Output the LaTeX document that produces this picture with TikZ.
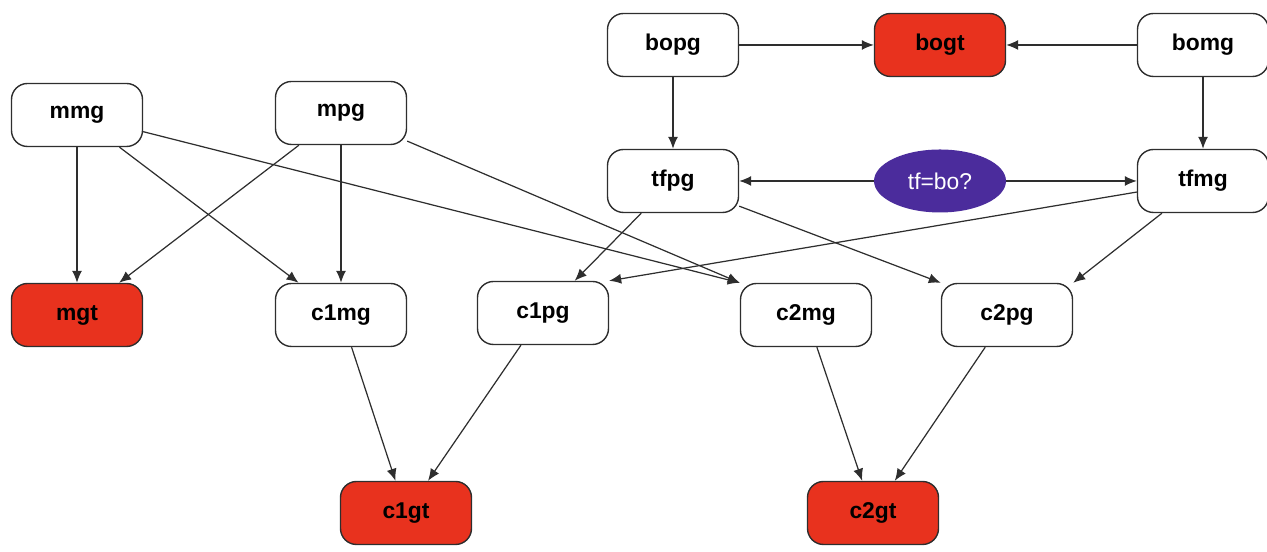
\documentclass[tikz,border=0pt]{standalone}
\usepackage{fontspec}
\setsansfont{Liberation Sans}
\usetikzlibrary{arrows.meta, positioning, shapes.geometric}
\definecolor{gtred}{HTML}{E8321E}
\definecolor{askpurple}{HTML}{4B2C9C}
\definecolor{edgegray}{HTML}{2E2E2E}

\begin{document}
\begin{tikzpicture}[
        every node/.style={font=\sffamily\bfseries\fontsize{13}{15}\selectfont},
        var/.style={rectangle, draw=edgegray, line width=0.8pt, rounded corners=0.32cm, fill=white, minimum width=2.62cm, minimum height=1.26cm, align=center},
        goal/.style={var, fill=gtred},
        query/.style={ellipse, fill=askpurple, text=white, minimum width=2.64cm, minimum height=1.26cm, inner sep=0pt, font=\sffamily\fontsize{13}{15}\selectfont},
        arrow/.style={-{Latex[length=2.4mm,width=2mm]}, line width=0.7pt, draw=edgegray}
    ]
        \useasboundingbox (0,0) rectangle (25.34,11.04);

        % Nodes
        \node[var] (bopg) at (13.46,10.14) {bopg};
        \node[goal] (bogt) at (18.80,10.14) {bogt};
        \node[var] (bomg) at (24.06,10.14) {bomg};
        \node[var] (tfpg) at (13.46,7.42) {tfpg};
        \node[query] (tfbo) at (18.80,7.42) {tf=bo?};
        \node[var] (tfmg) at (24.06,7.42) {tfmg};
        \node[var] (mmg) at (1.54,8.74) {mmg};
        \node[var] (mpg) at (6.82,8.78) {mpg};
        \node[goal] (mgt) at (1.54,4.74) {mgt};
        \node[var] (c1mg) at (6.82,4.74) {c1mg};
        \node[var] (c1pg) at (10.86,4.78) {c1pg};
        \node[var] (c2mg) at (16.12,4.74) {c2mg};
        \node[var] (c2pg) at (20.14,4.74) {c2pg};
        \node[goal] (c1gt) at (8.12,0.78) {c1gt};
        \node[goal] (c2gt) at (17.46,0.78) {c2gt};

        % Arrows
        \draw[arrow] (bopg) -- (bogt);
        \draw[arrow] (bomg) -- (bogt);
        \draw[arrow] (bopg) -- (tfpg);
        \draw[arrow] (bomg) -- (tfmg);
        \draw[arrow] (tfbo) -- (tfpg);
        \draw[arrow] (tfbo) -- (tfmg);
        \draw[arrow] (mmg) -- (mgt);
        \draw[arrow] (mmg) -- (c1mg);
        \draw[arrow] (mmg) -- (c2mg.north west);
        \draw[arrow] (mpg) -- (mgt);
        \draw[arrow] (mpg) -- (c1mg);
        \draw[arrow] (mpg) -- (c2mg.north west);
        \draw[arrow] (tfpg) -- (c1pg);
        \draw[arrow] (tfpg) -- (c2pg.north west);
        \draw[arrow] (tfmg) -- (c1pg.north east);
        \draw[arrow] (tfmg) -- (c2pg.north east);
        \draw[arrow] (c1mg) -- (c1gt);
        \draw[arrow] (c1pg) -- (c1gt);
        \draw[arrow] (c2mg) -- (c2gt);
        \draw[arrow] (c2pg) -- (c2gt);
    \end{tikzpicture}
\end{document}
